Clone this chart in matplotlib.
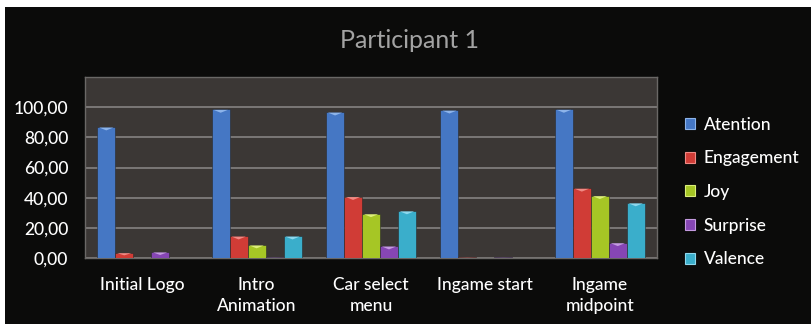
import matplotlib
matplotlib.use("Agg")
import matplotlib.pyplot as plt
import numpy as np
from matplotlib.patches import Polygon, Rectangle

categories = ["Initial Logo", "Intro\nAnimation", "Car select\nmenu", "Ingame start", "Ingame\nmidpoint"]
series_names = ["Atention", "Engagement", "Joy", "Surprise", "Valence"]
atention = [86.8, 98.5, 96.7, 98.0, 98.5]
engagement = [3.5, 14.5, 40.7, 0.8, 46.2]
joy = [0.0, 8.6, 29.3, 0.0, 41.3]
surprise = [4.0, 0.5, 7.9, 0.5, 10.1]
valence = [0.0, 14.5, 31.2, 0.0, 36.5]
yticks = [0, 20, 40, 60, 80, 100]
ytick_labels = ["0,00", "20,00", "40,00", "60,00", "80,00", "100,00"]

series = [atention, engagement, joy, surprise, valence]
colors = ["#4577c4", "#d03c36", "#a6c625", "#8646b4", "#3aaecb"]
light = ["#8db4ea", "#f08a84", "#dcef7a", "#c49be0", "#8ed8ee"]

plt.rcParams["font.family"] = ["Lato", "DejaVu Sans"]

W, H = 811, 324
fig = plt.figure(figsize=(W / 100, H / 100), dpi=100)
fig.patch.set_facecolor("white")
fig.add_artist(Rectangle((5 / W, 0), 1, 1 - 7 / H, transform=fig.transFigure,
                         facecolor="#0b0b0a", edgecolor="none", zorder=0))

ax = fig.add_axes([85 / W, (H - 258) / H, (657 - 85) / W, (258 - 77) / H])
ax.set_facecolor("#3b3735")
ax.set_ylim(0, 120)
ax.set_xlim(-0.5, 4.5)
ax.set_yticks(yticks)
ax.set_yticklabels(ytick_labels, color="white", fontsize=12.5, fontweight="medium")
ax.tick_params(axis="y", length=0, pad=12)
ax.tick_params(axis="x", length=0, pad=14)
x = np.arange(len(categories))
ax.set_xticks(x)
ax.set_xticklabels(categories, color="white", fontsize=12.5, linespacing=1.35,
                   fontweight="medium")
ax.yaxis.grid(True, color="#858281", linewidth=1.2)
ax.set_axisbelow(True)
for s in ax.spines.values():
    s.set_color("#6a6866")
    s.set_linewidth(1)

bw = 0.157
handles = []
for i, (vals, c, lc, name) in enumerate(zip(series, colors, light, series_names)):
    offs = (i - 2) * bw
    bars = ax.bar(x + offs, vals, width=bw, color=c, edgecolor="#2a2a2a",
                  linewidth=0.4, label=name, zorder=3)
    for b in bars:
        h = b.get_height()
        if h <= 0:
            continue
        x0 = b.get_x()
        w = b.get_width()
        th = min(2.2, h * 0.5)
        tri = Polygon([[x0 + w * 0.1, h - 0.3], [x0 + w * 0.9, h - 0.3], [x0 + w * 0.5, h - th]],
                      closed=True, facecolor=lc, edgecolor="none", zorder=4)
        ax.add_patch(tri)
    handles.append(Rectangle((0, 0), 1, 1, facecolor=c, edgecolor=lc, linewidth=0.8))

leg = fig.legend(handles, series_names, loc="upper left", bbox_to_anchor=(669 / W, 1 - 101 / H),
                 frameon=False, fontsize=12.5, labelcolor="white", handlelength=0.6,
                 handleheight=0.6, handletextpad=0.5, labelspacing=1.02,
                 prop={"weight": "medium", "size": 12.5})

fig.text(410 / W, 1 - 40 / H, "Participant 1", color="#a3a3a3", fontsize=18,
         ha="center", va="center")

fig.savefig("out.png", dpi=100, facecolor=fig.get_facecolor())
